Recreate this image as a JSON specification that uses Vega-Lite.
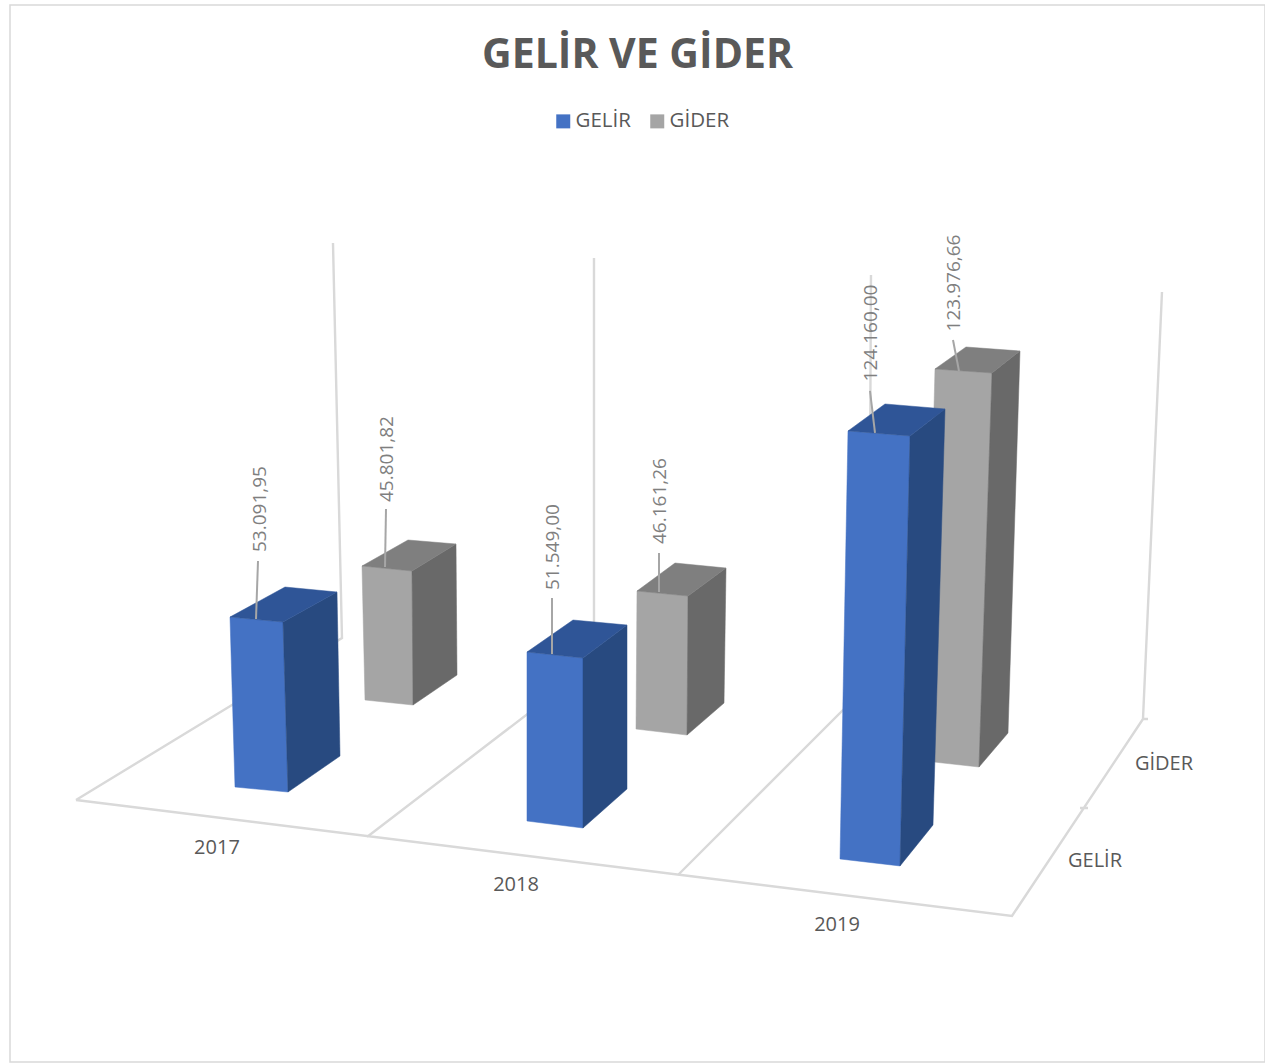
{
"$schema":"https://vega.github.io/schema/vega-lite/v6.json",
"width":1255,"height":1057,
"autosize":{"type":"none"},
"padding":{"left":10,"top":5,"right":0,"bottom":2},
"background":"#ffffff",
"view":{"stroke":"#d9d9d9","strokeWidth":1.5},
"title":{"text":"GELİR VE GİDER","font":"Open Sans","fontSize":41,"fontWeight":"bold","color":"#595959","anchor":"middle","offset":0,"dy":72},
"params":[{"name":"g","expr":"{'17G':{xo:115.42,tl:617,yo:-269.6,k:0.003202,wt:53,s:5,lb:5,wb:53,sb:5,dt:54,ht:30,ax:55,ay:30,db:52,hb:36,l0:26,l1:2,l2:28,l3:-56,tx:30,ty:-108,yx:102.4,yy:-214},'17D':{xo:38.25,tl:566,yo:-344.7,k:0.002926,wt:50,s:5,lb:3,wb:48,sb:5,dt:44,ht:27,ax:46,ay:26,db:44,hb:30,l0:23,l1:1,l2:24,l3:-57,tx:25,ty:-107},'18G':{xo:-5.92,tl:652,yo:-239.7,k:0.003278,wt:56,s:6,lb:0,wb:56,sb:7,dt:44,ht:33,ax:46,ay:32,db:44,hb:39,l0:25,l1:2,l2:25,l3:-54,tx:26,ty:-105,yx:-16.9,yy:-177},'18D':{xo:-105.08,tl:591,yo:-318.5,k:0.00299,wt:51,s:5,lb:-1,wb:51,sb:6,dt:38,ht:28,ax:38,ay:28,db:37,hb:32,l0:22,l1:1,l2:22,l3:-38,tx:23,ty:-90},'19G':{xo:-103.25,tl:431,yo:-220.9,k:0.003447,wt:62,s:5,lb:-8,wb:60,sb:7,dt:35,ht:27,ax:37,ay:27,db:33,hb:41,l0:27,l1:2,l2:22,l3:-40,tx:23,ty:-98,yx:-114.25,yy:-137,sx:143.75,sy:-201},'19D':{xo:-225.42,tl:369,yo:-283.5,k:0.003162,wt:57,s:4,lb:-10,wb:54,sb:6,dt:28,ht:22,ax:31,ay:22,db:29,hb:34,l0:24,l1:2,l2:18,l3:-29,tx:19,ty:-86,sx:3.6,sy:-298}}"}],
"data":{"values":[
{"id":"17G","year":"2017","series":"GELİR","value":53091.95,"label":"53.091,95"},
{"id":"17D","year":"2017","series":"GİDER","value":45801.82,"label":"45.801,82"},
{"id":"18G","year":"2018","series":"GELİR","value":51549.00,"label":"51.549,00"},
{"id":"18D","year":"2018","series":"GİDER","value":46161.26,"label":"46.161,26"},
{"id":"19G","year":"2019","series":"GELİR","value":124160.00,"label":"124.160,00"},
{"id":"19D","year":"2019","series":"GİDER","value":123976.66,"label":"123.976,66"}
]},
"encoding":{
"x":{"field":"id","type":"nominal","axis":null,"scale":{"domain":["17G","17D","18G","18D","19G","19D"],"paddingInner":0,"paddingOuter":0}},
"y":{"field":"value","type":"quantitative","axis":null,"scale":{"domain":[0,320000],"nice":false,"zero":true}}
},
"layer":[
{"transform":[{"filter":"datum.id=='17G'"}],
 "mark":{"type":"point","filled":false,"opacity":1,"size":4,"stroke":"#d9d9d9","strokeWidth":2.4,"shape":"M-38.6,-262L897.4,-146L1028.4,-343L1047.4,-770M1028.4,-343L1033.4,-343M965.4,-254L973.4,-254M-38.6,-262L227.4,-424L218.4,-819M252.4,-225L479.4,-399L479.4,-804M563.4,-187L754.4,-378L756.4,-787"},
 "encoding":{"y":{"datum":0}}},
{"mark":{"type":"bar","stroke":null,
  "xOffset":{"expr":"g[datum.id].xo+(max(0,g[datum.id].lb)+min(g[datum.id].wt,g[datum.id].lb+g[datum.id].wb))/2"},
  "width":{"expr":"min(g[datum.id].wt,g[datum.id].lb+g[datum.id].wb)-max(0,g[datum.id].lb)"},
  "yOffset":{"expr":"g[datum.id].yo+6"},
  "y2Offset":{"expr":"g[datum.id].tl+datum.value*g[datum.id].k-1062-1"}},
 "encoding":{
  "y2":{"datum":0},
  "color":{"field":"series","type":"nominal","scale":{"domain":["GELİR","GİDER"],"range":["#4472c4","#a5a5a5"]},
   "legend":{"title":null,"orient":"none","legendX":543,"legendY":106,"direction":"horizontal","symbolType":"square","symbolSize":196,"symbolStrokeWidth":0,"labelFont":"Open Sans","labelFontSize":20.5,"labelColor":"#595959","labelOffset":2,"columnPadding":16,"padding":0}}
 }},
{"mark":{"type":"point","filled":true,"opacity":1,"size":4,"strokeWidth":0.5,
  "fill":{"expr":"datum.series=='GELİR'?'#4472c4':'#a5a5a5'"},
  "stroke":{"expr":"datum.series=='GELİR'?'#4472c4':'#a5a5a5'"},
  "xOffset":{"expr":"g[datum.id].xo"},"yOffset":{"expr":"g[datum.id].yo"},
  "shape":{"expr":"'M0,0L'+g[datum.id].wt+','+g[datum.id].s+'L'+(g[datum.id].lb+g[datum.id].wb)+','+(datum.value*g[datum.id].k+g[datum.id].sb)+'L'+g[datum.id].lb+','+(datum.value*g[datum.id].k)+'Z'"}}},
{"mark":{"type":"point","filled":true,"opacity":1,"size":4,"strokeWidth":0.5,
  "fill":{"expr":"datum.series=='GELİR'?'#284a80':'#696969'"},
  "stroke":{"expr":"datum.series=='GELİR'?'#284a80':'#696969'"},
  "xOffset":{"expr":"g[datum.id].xo"},"yOffset":{"expr":"g[datum.id].yo"},
  "shape":{"expr":"'M'+g[datum.id].wt+','+g[datum.id].s+'L'+(g[datum.id].wt+g[datum.id].dt)+','+(g[datum.id].s-g[datum.id].ht)+'L'+(g[datum.id].lb+g[datum.id].wb+g[datum.id].db)+','+(datum.value*g[datum.id].k+g[datum.id].sb-g[datum.id].hb)+'L'+(g[datum.id].lb+g[datum.id].wb)+','+(datum.value*g[datum.id].k+g[datum.id].sb)+'Z'"}}},
{"mark":{"type":"point","filled":true,"opacity":1,"size":4,"strokeWidth":0.5,
  "fill":{"expr":"datum.series=='GELİR'?'#2f5597':'#7f7f7f'"},
  "stroke":{"expr":"datum.series=='GELİR'?'#2f5597':'#7f7f7f'"},
  "xOffset":{"expr":"g[datum.id].xo"},"yOffset":{"expr":"g[datum.id].yo"},
  "shape":{"expr":"'M0,0L'+g[datum.id].wt+','+g[datum.id].s+'L'+(g[datum.id].wt+g[datum.id].dt)+','+(g[datum.id].s-g[datum.id].ht)+'L'+g[datum.id].ax+','+(-g[datum.id].ay)+'Z'"}}},
{"mark":{"type":"point","filled":false,"opacity":1,"size":4,"stroke":"#a6a6a6","strokeWidth":2,
  "xOffset":{"expr":"g[datum.id].xo"},"yOffset":{"expr":"g[datum.id].yo"},
  "shape":{"expr":"'M'+g[datum.id].l0+','+g[datum.id].l1+'L'+g[datum.id].l2+','+g[datum.id].l3"}}},
{"mark":{"type":"text","font":"Open Sans","fontSize":19,"color":"#7f7f7f","angle":270,"align":"center","baseline":"middle",
  "xOffset":{"expr":"g[datum.id].xo+g[datum.id].tx"},"yOffset":{"expr":"g[datum.id].yo+g[datum.id].ty"}},
 "encoding":{"text":{"field":"label"}}},
{"transform":[{"filter":"datum.series=='GELİR'"}],
 "mark":{"type":"text","font":"Open Sans","fontSize":20,"color":"#595959","align":"center","baseline":"middle",
  "xOffset":{"expr":"g[datum.id].yx"},"yOffset":{"expr":"g[datum.id].yy"}},
 "encoding":{"y":{"datum":0},"text":{"field":"year"}}},
{"transform":[{"filter":"datum.year=='2019'"}],
 "mark":{"type":"text","font":"Open Sans","fontSize":20,"color":"#595959","align":"center","baseline":"middle",
  "xOffset":{"expr":"g[datum.id].sx"},"yOffset":{"expr":"g[datum.id].sy"}},
 "encoding":{"y":{"datum":0},"text":{"field":"series"}}}
]
}
